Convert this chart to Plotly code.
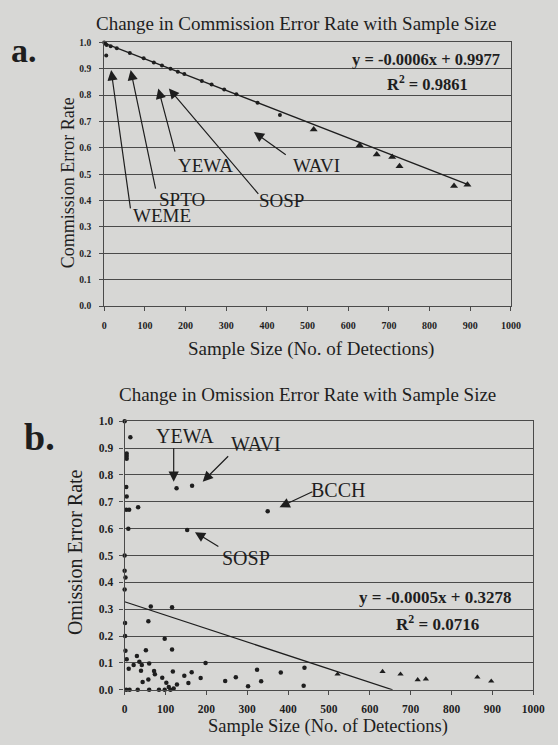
import plotly.graph_objects as go

# ---------------- data: panel a (commission) ----------------
comm_dot_x = [0, 3, 6, 5, 16, 31, 63, 97, 122, 142, 163, 181, 197, 240, 264, 295, 325, 377, 432]
comm_dot_y = [1.0, 0.995, 0.99, 0.95, 0.985, 0.978, 0.96, 0.94, 0.924, 0.912, 0.9, 0.889, 0.88,
              0.854, 0.84, 0.821, 0.803, 0.771, 0.725]
comm_tri_x = [515, 628, 670, 708, 726, 860, 893]
comm_tri_y = [0.67, 0.61, 0.575, 0.565, 0.53, 0.455, 0.46]
comm_slope, comm_intercept = -0.0006, 0.9977
comm_fit_x = [0, 893]

# ---------------- data: panel b (omission) ----------------
om_dot_x = [0, 14, 5, 5, 5, 4, 5, 4, 11, 33, 9, 127, 165, 350, 153,
            0, 0, 2, 0, 1, 1, 2, 5, 10, 22, 30, 36, 42, 40, 44, 52, 60, 58, 64, 58, 72, 74,
            92, 98, 102, 116, 118, 116, 128, 146, 156, 164, 186, 198, 246, 272, 302, 324,
            334, 382, 440, 438, 4, 12, 32, 60, 84, 98, 112, 120, 108]
om_dot_y = [1.0, 0.94, 0.88, 0.87, 0.86, 0.755, 0.72, 0.67, 0.67, 0.68, 0.6, 0.75, 0.76, 0.665, 0.595,
            0.5, 0.443, 0.418, 0.373, 0.249, 0.2, 0.145, 0.114, 0.078, 0.092, 0.126, 0.104, 0.092,
            0.071, 0.029, 0.147, 0.098, 0.255, 0.31, 0.038, 0.07, 0.058, 0.045, 0.19, 0.026, 0.15,
            0.068, 0.307, 0.02, 0.052, 0.025, 0.065, 0.044, 0.1, 0.033, 0.047, 0.013, 0.075, 0.032,
            0.064, 0.082, 0.015, 0.0, 0.0, 0.0, 0.0, 0.0, 0.0, 0.0, 0.005, 0.01]
om_tri_x = [521, 631, 675, 717, 737, 863, 897]
om_tri_y = [0.058, 0.068, 0.058, 0.037, 0.04, 0.047, 0.032]
om_slope, om_intercept = -0.0005, 0.3278
om_fit_x = [0, 655.6]

x_ticks = [0, 100, 200, 300, 400, 500, 600, 700, 800, 900, 1000]
y_ticks = [0.0, 0.1, 0.2, 0.3, 0.4, 0.5, 0.6, 0.7, 0.8, 0.9, 1.0]

BG = "#d7d7d5"
INK = "#1e1e1e"
GRID = "#4a4a4a"
SERIF = "Liberation Serif"

fig = go.Figure()

# panel a
fig.add_trace(go.Scatter(x=comm_fit_x, y=[comm_intercept + comm_slope * v for v in comm_fit_x],
                         mode="lines", line=dict(color=INK, width=1.3), xaxis="x", yaxis="y",
                         showlegend=False, hoverinfo="skip"))
fig.add_trace(go.Scatter(x=comm_dot_x, y=comm_dot_y, mode="markers",
                         marker=dict(symbol="circle", size=4, color=INK), xaxis="x", yaxis="y",
                         showlegend=False, cliponaxis=False))
fig.add_trace(go.Scatter(x=comm_tri_x, y=comm_tri_y, mode="markers",
                         marker=dict(symbol="triangle-up", size=7, color=INK), xaxis="x", yaxis="y",
                         showlegend=False))

# panel b
fig.add_trace(go.Scatter(x=om_fit_x, y=[om_intercept + om_slope * v for v in om_fit_x],
                         mode="lines", line=dict(color=INK, width=1.3), xaxis="x2", yaxis="y2",
                         showlegend=False, hoverinfo="skip"))
fig.add_trace(go.Scatter(x=om_dot_x, y=om_dot_y, mode="markers",
                         marker=dict(symbol="circle", size=4.5, color=INK), xaxis="x2", yaxis="y2",
                         showlegend=False, cliponaxis=False))
fig.add_trace(go.Scatter(x=om_tri_x, y=om_tri_y, mode="markers",
                         marker=dict(symbol="triangle-up", size=5.5, color=INK), xaxis="x2", yaxis="y2",
                         showlegend=False))

axis_common = dict(showline=True, linecolor=GRID, linewidth=1.3, mirror=True,
                   ticks="outside", tickcolor=GRID, ticklen=4, zeroline=False)

fig.update_layout(
    autosize=True,
    margin=dict(l=0, r=0, t=0, b=0),
    paper_bgcolor=BG, plot_bgcolor=BG,
    font=dict(family=SERIF, color=INK),
    xaxis=dict(domain=[104 / 558, 522 / 558], range=[0, 1000], tickvals=x_ticks,
               ticktext=[str(v) for v in x_ticks], showgrid=False, ticklabelstandoff=6,
               tickfont=dict(size=10, family=SERIF, weight="bold"), anchor="y", **axis_common),
    yaxis=dict(domain=[(745 - 305) / 745, (745 - 37) / 745], range=[0, 1.0], tickvals=y_ticks,
               ticktext=[f"{v:.1f}" for v in y_ticks], showgrid=True, gridcolor=GRID, gridwidth=1.2,
               ticklabelstandoff=6,
               tickfont=dict(size=9.5, family=SERIF, weight="bold"), anchor="x", **axis_common),
    xaxis2=dict(domain=[125 / 558, 545 / 558], range=[0, 1000], tickvals=x_ticks,
                ticktext=[str(v) for v in x_ticks], showgrid=False, ticklabelstandoff=4,
                tickfont=dict(size=11.5, family=SERIF, weight="bold"), anchor="y2", **axis_common),
    yaxis2=dict(domain=[(745 - 695) / 745, (745 - 422) / 745], range=[0, 1.0], tickvals=y_ticks,
                ticktext=[f"{v:.1f}" for v in y_ticks], showgrid=True, gridcolor=GRID, gridwidth=1.2,
                ticklabelstandoff=4,
                tickfont=dict(size=11.5, family=SERIF, weight="bold"), anchor="x2", **axis_common),
)

ann = []


def ptext(text, px, py, size, angle=0):
    ann.append(dict(text=text, x=px / 558, y=1 - py / 745, xref="paper", yref="paper",
                    xanchor="center", yanchor="middle", showarrow=False, textangle=angle,
                    font=dict(size=size, family=SERIF, color=INK)))


# panel labels
ptext("<b>a.</b>", 22, 45, 34)
ptext("<b>b.</b>", 37, 438, 38)
# titles
ptext("Change in Commission Error Rate with Sample Size", 302, 18, 19)
ptext("Change in Omission Error Rate with Sample Size", 313, 395, 19)
# axis titles
ptext("Sample Size (No. of Detections)", 316, 349, 19)
ptext("Sample Size (No. of Detections)", 334, 732, 18.5)
ptext("Commission Error Rate", 67, 180, 18, -90)
ptext("Omission Error Rate", 74, 555, 20, -90)


def dtext(text, xa, ya, x, y, size):
    ann.append(dict(text=text, x=x, y=y, xref=xa, yref=ya, xanchor="center", yanchor="middle",
                    showarrow=False, font=dict(size=size, family=SERIF, color=INK)))


# equations
dtext("<b>y = -0.0006x + 0.9977</b>", "x", "y", 792, 0.935, 16.5)
dtext("<b>R<sup>2</sup> = 0.9861</b>", "x", "y", 795, 0.845, 16.5)
dtext("<b>y = -0.0005x + 0.3278</b>", "x2", "y2", 760, 0.345, 17)
dtext("<b>R<sup>2</sup> = 0.0716</b>", "x2", "y2", 765, 0.25, 17)


def arrow(xa, ya, head, tail, label, label_pos, size=19):
    ann.append(dict(x=head[0], y=head[1], ax=tail[0], ay=tail[1], xref=xa, yref=ya,
                    axref=xa, ayref=ya, text="", showarrow=True, arrowhead=2, arrowsize=1.7,
                    arrowwidth=1.2, arrowcolor=INK, standoff=0))
    dtext(label, xa, ya, label_pos[0], label_pos[1], size)


# panel a labels
arrow("x", "y", (17, 0.895), (65, 0.365), "WEME", (141, 0.345))
arrow("x", "y", (65, 0.895), (127, 0.44), "SPTO", (192, 0.405))
arrow("x", "y", (133, 0.825), (175, 0.58), "YEWA", (249, 0.535))
arrow("x", "y", (159, 0.825), (382, 0.42), "SOSP", (437, 0.40))
arrow("x", "y", (368, 0.66), (450, 0.57), "WAVI", (521, 0.535))

# panel b labels
arrow("x2", "y2", (120, 0.775), (120, 0.905), "YEWA", (148, 0.945), size=20)
arrow("x2", "y2", (191, 0.775), (257, 0.875), "WAVI", (322, 0.915), size=20)
arrow("x2", "y2", (379, 0.68), (463, 0.74), "BCCH", (521, 0.745), size=20)
arrow("x2", "y2", (172, 0.587), (233, 0.53), "SOSP", (296, 0.49), size=20)

fig.update_layout(annotations=ann)
fig.write_html(
    "out.html",
    config={"displayModeBar": False, "responsive": True},
    default_width="100vw",
    default_height="100vh",
    post_script=("document.body.style.margin='0';"
                 "document.body.style.overflow='hidden';"
                 "document.documentElement.style.overflow='hidden';"
                 "window.dispatchEvent(new Event('resize'));"),
)
